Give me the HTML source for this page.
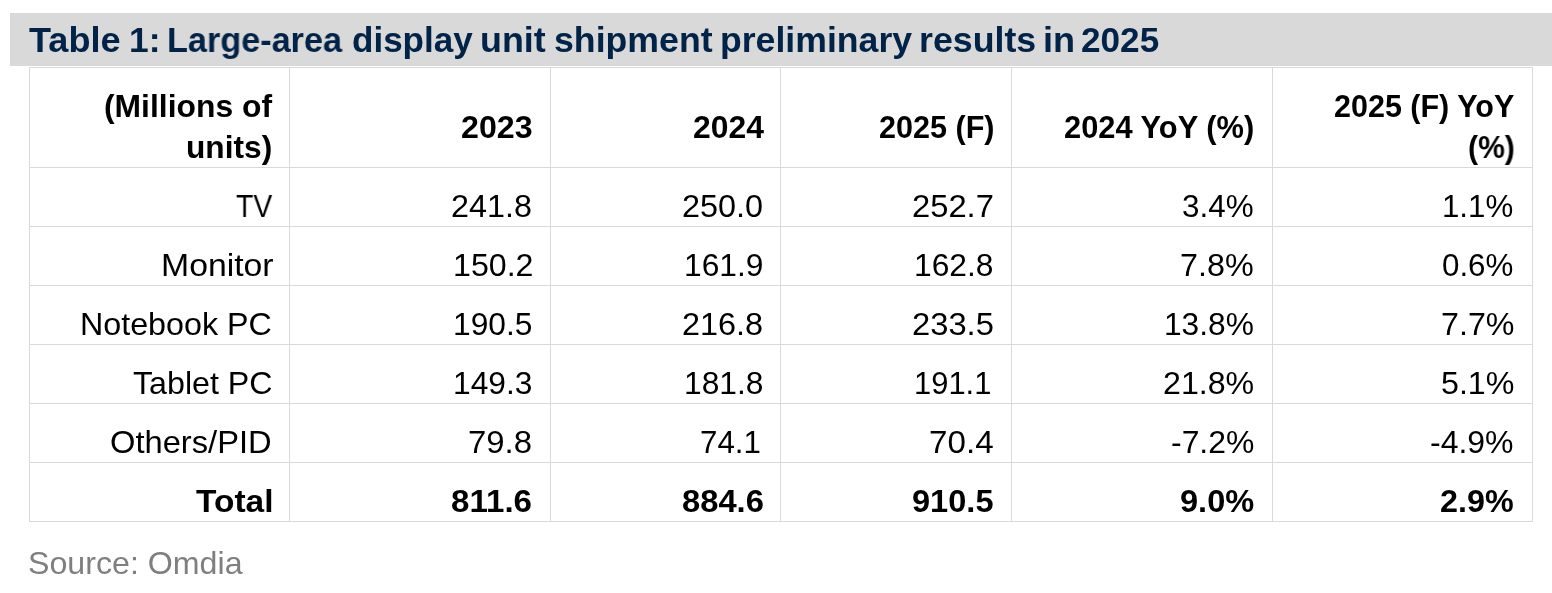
<!DOCTYPE html>
<html>
<head>
<meta charset="utf-8">
<style>
html,body{margin:0;padding:0;background:#fff;}
body{width:1552px;height:593px;position:relative;overflow:hidden;font-family:"Liberation Sans",sans-serif;color:#000;}
.bar{position:absolute;left:10px;top:13px;width:1542px;height:53px;background:#d9d9d9;}
.h{position:absolute;height:1px;background:#d9d9d9;left:29px;width:1504px;}
.v{position:absolute;width:1px;background:#d9d9d9;top:67px;height:455px;}
.t{position:absolute;line-height:40px;white-space:nowrap;}
.t span{display:inline-block;transform-origin:0 0;will-change:transform;}
.b{font-weight:bold;}
</style>
</head>
<body>
<div class="bar"></div>
<div class="h" style="top:67px"></div>
<div class="h" style="top:167px"></div>
<div class="h" style="top:226px"></div>
<div class="h" style="top:285px"></div>
<div class="h" style="top:344px"></div>
<div class="h" style="top:403px"></div>
<div class="h" style="top:462px"></div>
<div class="h" style="top:521px"></div>
<div class="v" style="left:29px"></div>
<div class="v" style="left:289px"></div>
<div class="v" style="left:550px"></div>
<div class="v" style="left:780px"></div>
<div class="v" style="left:1011px"></div>
<div class="v" style="left:1272px"></div>
<div class="v" style="left:1532px"></div>
<div class="t b" style="left:103.95px;top:86.00px;font-size:30.50px;"><span style="transform:scaleX(1.0438)">(Millions of</span></div>
<div class="t b" style="left:185.92px;top:127.00px;font-size:30.50px;"><span style="transform:scaleX(1.0381)">units)</span></div>
<div class="t b" style="left:460.95px;top:107.00px;font-size:30.50px;"><span style="transform:scaleX(1.0547)">2023</span></div>
<div class="t b" style="left:692.77px;top:107.00px;font-size:30.50px;"><span style="transform:scaleX(1.0449)">2024</span></div>
<div class="t b" style="left:878.80px;top:107.00px;font-size:30.50px;"><span style="transform:scaleX(1.0018)">2025 (F)</span></div>
<div class="t b" style="left:1063.99px;top:107.00px;font-size:30.50px;"><span style="transform:scaleX(1.0108)">2024 YoY (%)</span></div>
<div class="t b" style="left:1334.40px;top:86.00px;font-size:30.50px;"><span style="transform:scaleX(1.0000)">2025 (F) YoY</span></div>
<div class="t b" style="left:1467.80px;top:127.00px;font-size:30.50px;"><span style="transform:scaleX(0.9870)">(%)</span></div>
<div class="t" style="left:236.07px;top:186.00px;font-size:30.50px;"><span style="transform:scaleX(0.9269)">TV</span></div>
<div class="t" style="left:450.93px;top:186.00px;font-size:30.50px;"><span style="transform:scaleX(1.0596)">241.8</span></div>
<div class="t" style="left:682.35px;top:186.00px;font-size:30.50px;"><span style="transform:scaleX(1.0624)">250.0</span></div>
<div class="t" style="left:912.20px;top:186.00px;font-size:30.50px;"><span style="transform:scaleX(1.0733)">252.7</span></div>
<div class="t" style="left:1181.97px;top:186.00px;font-size:30.50px;"><span style="transform:scaleX(1.0294)">3.4%</span></div>
<div class="t" style="left:1442.36px;top:186.00px;font-size:30.50px;"><span style="transform:scaleX(1.0240)">1.1%</span></div>
<div class="t" style="left:160.62px;top:245.00px;font-size:30.50px;"><span style="transform:scaleX(1.1072)">Monitor</span></div>
<div class="t" style="left:452.71px;top:245.00px;font-size:30.50px;"><span style="transform:scaleX(1.0549)">150.2</span></div>
<div class="t" style="left:683.51px;top:245.00px;font-size:30.50px;"><span style="transform:scaleX(1.0412)">161.9</span></div>
<div class="t" style="left:913.51px;top:245.00px;font-size:30.50px;"><span style="transform:scaleX(1.0412)">162.8</span></div>
<div class="t" style="left:1180.35px;top:245.00px;font-size:30.50px;"><span style="transform:scaleX(1.0599)">7.8%</span></div>
<div class="t" style="left:1441.97px;top:245.00px;font-size:30.50px;"><span style="transform:scaleX(1.0266)">0.6%</span></div>
<div class="t" style="left:80.29px;top:304.00px;font-size:30.50px;"><span style="transform:scaleX(1.0573)">Notebook PC</span></div>
<div class="t" style="left:452.74px;top:304.00px;font-size:30.50px;"><span style="transform:scaleX(1.0412)">190.5</span></div>
<div class="t" style="left:682.35px;top:304.00px;font-size:30.50px;"><span style="transform:scaleX(1.0624)">216.8</span></div>
<div class="t" style="left:912.20px;top:304.00px;font-size:30.50px;"><span style="transform:scaleX(1.0731)">233.5</span></div>
<div class="t" style="left:1164.04px;top:304.00px;font-size:30.50px;"><span style="transform:scaleX(1.0386)">13.8%</span></div>
<div class="t" style="left:1440.89px;top:304.00px;font-size:30.50px;"><span style="transform:scaleX(1.0570)">7.7%</span></div>
<div class="t" style="left:133.35px;top:363.00px;font-size:30.50px;"><span style="transform:scaleX(1.0554)">Tablet PC</span></div>
<div class="t" style="left:452.74px;top:363.00px;font-size:30.50px;"><span style="transform:scaleX(1.0412)">149.3</span></div>
<div class="t" style="left:683.51px;top:363.00px;font-size:30.50px;"><span style="transform:scaleX(1.0412)">181.8</span></div>
<div class="t" style="left:913.57px;top:363.00px;font-size:30.50px;"><span style="transform:scaleX(1.0138)">191.1</span></div>
<div class="t" style="left:1163.23px;top:363.00px;font-size:30.50px;"><span style="transform:scaleX(1.0548)">21.8%</span></div>
<div class="t" style="left:1440.93px;top:363.00px;font-size:30.50px;"><span style="transform:scaleX(1.0565)">5.1%</span></div>
<div class="t" style="left:110.10px;top:422.00px;font-size:30.50px;"><span style="transform:scaleX(1.0717)">Others/PID</span></div>
<div class="t" style="left:468.30px;top:422.00px;font-size:30.50px;"><span style="transform:scaleX(1.0787)">79.8</span></div>
<div class="t" style="left:700.35px;top:422.00px;font-size:30.50px;"><span style="transform:scaleX(1.0252)">74.1</span></div>
<div class="t" style="left:928.95px;top:422.00px;font-size:30.50px;"><span style="transform:scaleX(1.0879)">70.4</span></div>
<div class="t" style="left:1170.76px;top:422.00px;font-size:30.50px;"><span style="transform:scaleX(1.0462)">-7.2%</span></div>
<div class="t" style="left:1430.37px;top:422.00px;font-size:30.50px;"><span style="transform:scaleX(1.0488)">-4.9%</span></div>
<div class="t b" style="left:196.45px;top:481.00px;font-size:30.50px;"><span style="transform:scaleX(1.0972)">Total</span></div>
<div class="t b" style="left:451.04px;top:481.00px;font-size:30.50px;"><span style="transform:scaleX(1.0850)">811.6</span></div>
<div class="t b" style="left:682.05px;top:481.00px;font-size:30.50px;"><span style="transform:scaleX(1.0731)">884.6</span></div>
<div class="t b" style="left:911.52px;top:481.00px;font-size:30.50px;"><span style="transform:scaleX(1.0677)">910.5</span></div>
<div class="t b" style="left:1179.64px;top:481.00px;font-size:30.50px;"><span style="transform:scaleX(1.0678)">9.0%</span></div>
<div class="t b" style="left:1440.41px;top:481.00px;font-size:30.50px;"><span style="transform:scaleX(1.0590)">2.9%</span></div>
<div class="t b" style="left:29.11px;top:20.00px;font-size:34.50px;color:#002347;"><span style="transform:scaleX(1.0465)">Table</span></div>
<div class="t b" style="left:128.75px;top:20.00px;font-size:34.50px;color:#002347;"><span style="transform:scaleX(1.0233)">1:</span></div>
<div class="t b" style="left:167.02px;top:20.00px;font-size:34.50px;color:#002347;"><span style="transform:scaleX(0.9920)">Large-area</span></div>
<div class="t b" style="left:352.39px;top:20.00px;font-size:34.50px;color:#002347;"><span style="transform:scaleX(1.0153)">display</span></div>
<div class="t b" style="left:479.81px;top:20.00px;font-size:34.50px;color:#002347;"><span style="transform:scaleX(1.0395)">unit</span></div>
<div class="t b" style="left:553.56px;top:20.00px;font-size:34.50px;color:#002347;"><span style="transform:scaleX(1.0342)">shipment</span></div>
<div class="t b" style="left:719.83px;top:20.00px;font-size:34.50px;color:#002347;"><span style="transform:scaleX(1.0326)">preliminary</span></div>
<div class="t b" style="left:919.22px;top:20.00px;font-size:34.50px;color:#002347;"><span style="transform:scaleX(1.0364)">results</span></div>
<div class="t b" style="left:1043.10px;top:20.00px;font-size:34.50px;color:#002347;"><span style="transform:scaleX(1.0455)">in</span></div>
<div class="t b" style="left:1081.09px;top:20.00px;font-size:34.50px;color:#002347;"><span style="transform:scaleX(1.0188)">2025</span></div>
<div class="t" style="left:27.89px;top:543.00px;font-size:30.50px;color:#7f7f7f;"><span style="transform:scaleX(1.0547)">Source: Omdia</span></div>
</body>
</html>
